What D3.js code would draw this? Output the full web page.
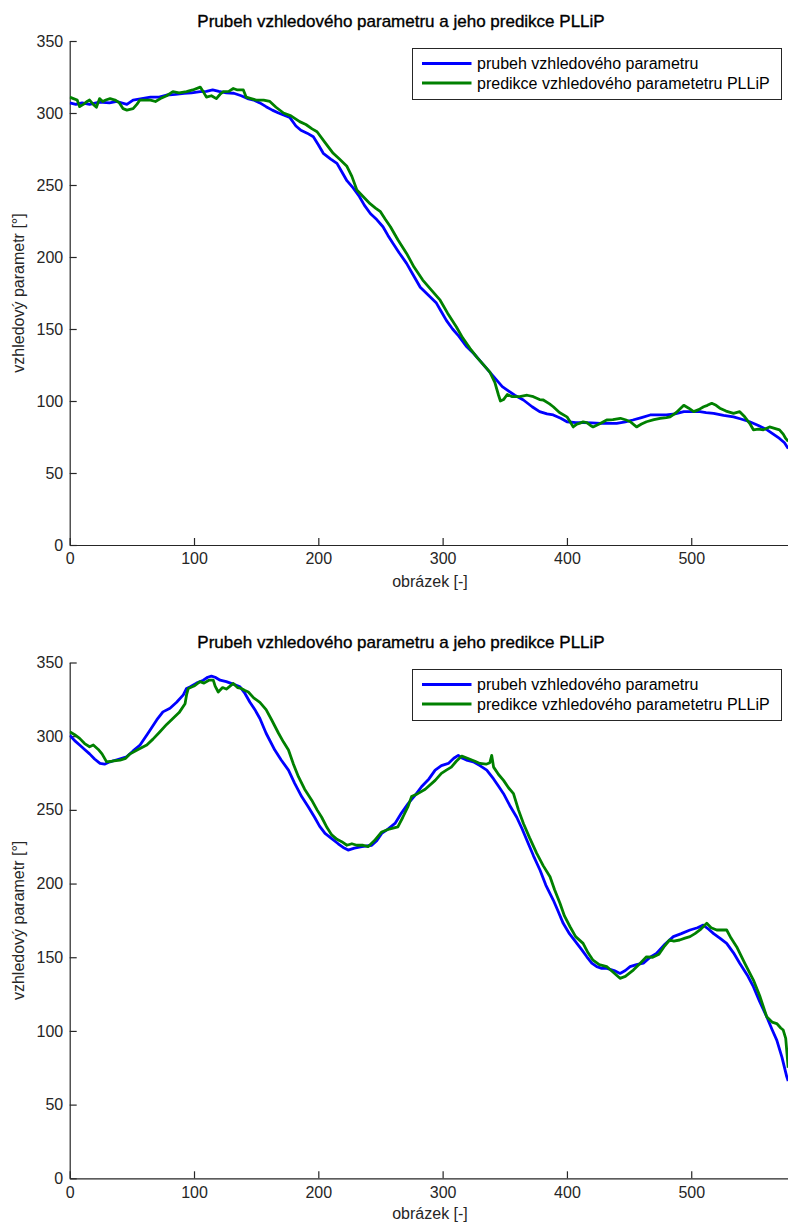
<!DOCTYPE html>
<html><head><meta charset="utf-8">
<script src="https://cdn.jsdelivr.net/npm/d3@7"></script>
<style>
html,body{margin:0;padding:0;background:#fff;}
svg{display:block;}
text{font-family:"Liberation Sans",Arial,Helvetica,sans-serif;}
</style></head>
<body>
<svg id="chart" width="788" height="1228"></svg>
<script>
// ---- DATA ----
const titleText = "Prubeh vzhledového parametru a jeho predikce PLLiP";
const xLabelText = "obrázek [-]";
const yLabelText = "vzhledový parametr [°]";
const seriesNames = ["prubeh vzhledového parametru", "predikce vzhledového parametetru PLLiP"];
const xTicks = [0, 100, 200, 300, 400, 500];
const yTicks = [0, 50, 100, 150, 200, 250, 300, 350];

// Panel 1: [frame, value]
const p1Actual = [[0,307],[5,306],[10,307],[16,306],[24,307.5],[32,307],[38,308],[46,306],[51,309],[58,310],[65,311],[72,311],[78,312.5],[85,313],[92,313.7],[98,314],[105,314.8],[110,315],[115,316],[120,315],[126,314],[132,313.7],[138,312],[143,310],[148,309],[153,307],[158,304.4],[163,302],[168,300],[172,298.6],[177,297],[182,291],[186,288],[191,286],[196,283.5],[200,278],[204,272],[210,268],[215,265],[219,259],[223,253],[228,248],[233,242],[237,236],[242,230],[247,226],[252,221],[256,215],[260,209.5],[265,203],[271,195.6],[276,188],[282,179],[288,174],[295,168],[299,162],[303,156],[308,150],[313,145],[319,138],[325,133],[330,128],[335,123],[340,118],[344,114],[348,110],[352,107.6],[358,104],[365,100.7],[372,96],[378,92.6],[384,91],[389,90.3],[395,88],[400,85.6],[407,85],[413,85],[420,84.8],[427,84.5],[434,84.5],[440,84.5],[447,85.5],[453,86.8],[460,88.5],[467,90.3],[474,90.3],[480,90.3],[487,91],[494,92.6],[500,92.6],[507,92.6],[512,92],[518,91.4],[526,90],[534,89],[540,87.5],[547,85.6],[554,83],[561,80],[566,77],[571,74],[575,71],[578,67]];
const p1Pred = [[0,311],[3,310],[6,309],[8,304.4],[11,306],[14,308],[16,309],[19,306],[21.5,304],[24,310],[26.6,308],[29,309],[32.5,310],[36.5,309],[40,307],[43,303],[46,302],[51,303],[54,306],[56.5,309],[60,309],[65,309],[69,308],[73,310],[78,312],[83,314.8],[88,314],[94,314.8],[99,316],[105,318],[108,314],[110,311],[114,312],[118,310],[121,313],[123.6,314.8],[128,315],[131.6,317],[135,316],[139.7,316],[142,311],[146,310],[150,309],[156,309],[161,308],[166,304],[172,300],[178,298],[185,294],[190,292],[195,289],[199,287],[205,280],[212,272],[217,268],[223,263],[227,256],[231,246.5],[236,242],[241.6,237],[246,234],[250,231.5],[254,226],[258,221],[264,212],[271,202.5],[277,193],[284,184],[291,177],[298,170],[304,161],[311,151.6],[316,144],[322,136.6],[328,130],[334,124],[338,120],[342,113],[345,104],[346.5,100],[349,101],[352,104.5],[356,103],[362,103],[368,104],[373,103],[378,101],[381,100.7],[386,98],[389,96],[394,92],[400,89],[403,85],[405,82],[408,84],[410,84.5],[413,85.5],[416,85],[419,83],[421,82],[426,84],[432,86.8],[437,87],[443,88],[447,87],[451,85.6],[456,82],[460,84],[464,85.6],[470,87],[475,88],[480,88.5],[483,89],[488,92],[494,97],[498,95],[502,92.6],[506,94],[510,96],[513,97],[516.5,98.4],[520,97],[523,95],[528,93],[534,91.4],[539,92.6],[543,89],[547,84.5],[550,80],[554,80.5],[558,80],[563,82],[567,81],[571,80],[574,77],[576,74],[578,72]];

// Panel 2: [frame, value]
const p2Actual = [[0,300.7],[4,297],[8,294],[12,291],[16,288],[20,284.5],[24.4,281.5],[28,281],[32.4,282.6],[38,284],[45.8,286],[51,290],[56.6,294],[63,302],[70,311],[75,316.5],[80.7,319],[86,323],[91.4,328],[94,332.4],[97,333.5],[102,336],[107.5,338],[111,340],[114,340.8],[117,340],[121,338],[126,337],[131,335.5],[137,333.5],[141,329],[145,323],[149,318],[153,312],[158,302],[165,290.6],[170,284],[176,277],[181,268],[186.6,259],[192,252],[197,245],[201,239],[205.4,234],[210,231],[216,227],[220,224.5],[224,222.7],[229,224],[235,225],[243,226],[247,229],[251,234],[256,237],[261.7,240.8],[267,248],[272.4,254.4],[278,260],[283,265.7],[289,271],[294,277],[299,280],[304.6,281.5],[309,285],[312.6,287],[316,285],[320,283.5],[324.7,282.6],[330,280],[335.5,277],[341,271],[345,266],[349,261],[354,253],[359.6,245],[364,237],[367.7,229.5],[373,219],[378.4,209],[383,199],[389,188.8],[393,181],[397,173],[402,166],[408,159.4],[412,155],[416,150.3],[420,146],[424,143.6],[428,142.5],[432,142.5],[438,141],[442.7,139],[447,141],[450.8,143.6],[456,145],[461.5,146],[467,150],[472,152.6],[479,159],[485.6,164],[492,166],[499,168.5],[505,170],[509.7,171.8],[514,169],[518,166],[523,163],[528.5,159.4],[534,153],[539,145.9],[545,138],[550,130],[555,120],[560.7,109.6],[565,101],[568.8,93.8],[573,82],[576.8,69],[578,66]];
const p2Pred = [[0,303],[4,301],[8,298.5],[12,295],[16,292.8],[19,294],[23,291],[26,288],[29.7,282.6],[34,283],[40.5,283.8],[45,285],[48.6,288],[55,291],[62,294],[67,298],[72.6,303],[78,308],[83,312],[88,316],[92.8,322],[94,328],[95.4,332.4],[100,334],[104.8,337],[108,336],[112,338],[115.5,338],[117,334],[119.5,330],[123,333],[126,332],[129,334],[131.6,335.8],[135,333],[138,332.4],[141,331],[143.7,330],[148,326],[153,323],[158,318],[162.5,311],[168,302],[172,296],[176,290.6],[180,281],[184,272.5],[189,264],[194.7,256.6],[199,250],[202.7,245],[207,238],[210.8,233],[215,230],[218.8,228.4],[223,226],[227,227],[231,226],[236,226],[240,225],[245,229],[251,235],[257,237],[264,238.5],[268,245],[272,252],[275,259],[280,261],[286,264],[294,270],[299,274.8],[303,277],[307,279],[311,283],[315.4,286.5],[320,285],[326,283],[330,281.5],[335,281],[338,282],[339.5,287],[341,279],[345,274],[349,270],[353,265],[357,261],[361,250],[365,240.8],[370,231],[375.7,220.5],[381,212],[386.4,204.6],[390,196],[394.4,186.6],[398,178],[402.5,170.7],[407,164],[413,159.4],[417,153],[421,148],[426,145],[432,143.6],[437,140],[442.7,135.7],[447,137],[453.4,141.3],[459,146],[464,150.3],[469,150],[474,152],[478,157],[482.6,161.7],[486,161],[490.7,161.7],[495,163],[499,164],[503,166],[507,168.5],[510,171],[512.5,173],[516,170],[520.5,168.5],[524,168.5],[528.5,168.5],[532,163],[536.6,157],[543,146],[550,134.5],[555,124],[560.7,109.6],[565,106],[568.8,105],[572,102],[574,100.6],[576,95],[577,85],[578,75]];

// ---- LAYOUT ----
const colors = ["#0000ff", "#008000"];
const panels = [
  {actual: p1Actual, pred: p1Pred, top: 41, bottom: 545, titleY: 27, xlabY: 587, legend: {x: 412.5, y: 48.5, w: 369, h: 51}},
  {actual: p2Actual, pred: p2Pred, top: 662.5, bottom: 1178.3, titleY: 648, xlabY: 1219, legend: {x: 412.5, y: 669.5, w: 369, h: 51}}
];
const left = 69.7, right = 788.2;

const svg = d3.select("#chart");

panels.forEach((p, i) => {
  const x = d3.scaleLinear().domain([0, 578]).range([left, right]);
  const y = d3.scaleLinear().domain([0, 350]).range([p.bottom, p.top]);
  const g = svg.append("g");

  const clipId = "clip" + i;
  svg.append("clipPath").attr("id", clipId).append("rect")
    .attr("x", left).attr("y", p.top - 5).attr("width", right - left + 5).attr("height", p.bottom - p.top + 5);

  // axes
  const xa = g.append("g").attr("transform", `translate(0,${p.bottom})`)
    .call(d3.axisBottom(x).tickValues(xTicks).tickSizeInner(-7).tickSizeOuter(0).tickPadding(8).tickFormat(d3.format("d")));
  const ya = g.append("g").attr("transform", `translate(${left},0)`)
    .call(d3.axisLeft(y).tickValues(yTicks).tickSizeInner(-7).tickSizeOuter(0).tickPadding(6.5).tickFormat(d3.format("d")));
  [xa, ya].forEach(a => {
    a.select(".domain").attr("stroke", "#262626").attr("stroke-width", 1.2);
    a.selectAll(".tick line").attr("stroke", "#262626").attr("stroke-width", 1.2);
    a.selectAll(".tick text").attr("fill", "#262626").style("font-size", "16px")
      .style("font-family", '"Liberation Sans",Arial,sans-serif');
  });

  // lines
  const line = d3.line().x(d => x(d[0])).y(d => y(d[1]));
  const lg = g.append("g").attr("clip-path", `url(#${clipId})`);
  lg.append("path").datum(p.actual).attr("d", line).attr("fill", "none")
    .attr("stroke", colors[0]).attr("stroke-width", 2.8).attr("stroke-linejoin", "round");
  lg.append("path").datum(p.pred).attr("d", line).attr("fill", "none")
    .attr("stroke", colors[1]).attr("stroke-width", 2.8).attr("stroke-linejoin", "round");

  // title
  g.append("text").attr("x", 401).attr("y", p.titleY).attr("text-anchor", "middle")
    .style("font-size", "17px").attr("fill", "#000")
    .attr("stroke", "#000").attr("stroke-width", 0.35).text(titleText);
  // x label
  g.append("text").attr("x", 430).attr("y", p.xlabY).attr("text-anchor", "middle")
    .style("font-size", "16px").attr("fill", "#262626").text(xLabelText);
  // y label
  g.append("text").attr("transform", `translate(24,${(p.top + p.bottom) / 2}) rotate(-90)`)
    .attr("text-anchor", "middle").style("font-size", "16px").attr("fill", "#262626").text(yLabelText);

  // legend
  const L = p.legend;
  const leg = g.append("g");
  leg.append("rect").attr("x", L.x).attr("y", L.y).attr("width", L.w).attr("height", L.h)
    .attr("fill", "#fff").attr("stroke", "#262626").attr("stroke-width", 1);
  seriesNames.forEach((name, k) => {
    const cy = L.y + 15 + k * 19.5;
    leg.append("line").attr("x1", L.x + 9.5).attr("x2", L.x + 59).attr("y1", cy).attr("y2", cy)
      .attr("stroke", colors[k]).attr("stroke-width", 2.8);
    leg.append("text").attr("x", L.x + 64.5).attr("y", cy).attr("dy", "0.35em")
      .style("font-size", "16px").attr("fill", "#000").text(name);
  });
});
</script>
</body></html>
